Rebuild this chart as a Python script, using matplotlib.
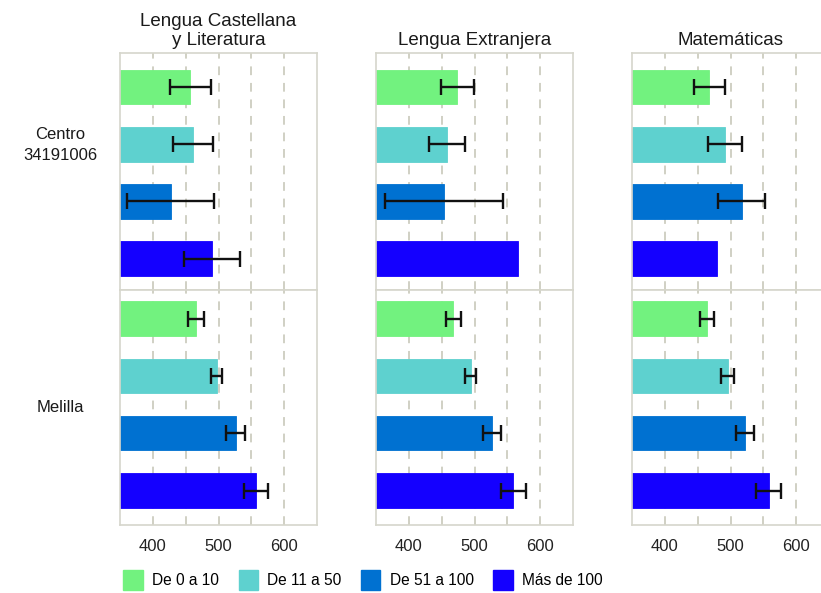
import matplotlib
matplotlib.use("Agg")
import matplotlib.pyplot as plt
import matplotlib.patches as mpatches
import numpy as np

plt.rcParams['font.family'] = ['Liberation Sans', 'DejaVu Sans']

# datos
materias = ["Lengua Castellana\ny Literatura", "Lengua Extranjera", "Matemáticas"]
grupos = ["De 0 a 10", "De 11 a 50", "De 51 a 100", "Más de 100"]
colores = ["#72F27F", "#5ED1CF", "#0071D1", "#1400FF"]
filas = ["Centro\n34191006", "Melilla"]

# Centro 34191006 (media, error)
centro_media = [[457, 461, 427, 490],
                [474, 458, 453, 567],
                [468, 492, 517, 480]]
centro_error = [[31, 30, 66, 42],
                [25, 27, 90, np.nan],
                [23, 26, 36, np.nan]]

# Melilla (media, error)
melilla_media = [[466, 497, 526, 557],
                 [468, 494, 527, 559],
                 [464, 496, 522, 558]]
melilla_error = [[12, 9, 14, 18],
                 [11, 9, 14, 19],
                 [11, 10, 14, 19]]

ticks = [400, 500, 600]

#==========
# figura
#==========
W, H = 821, 593
fig = plt.figure(figsize=(W / 100, H / 100), dpi=100)

borde = "#D6D6CC"
izq = [120, 376, 632]
ancho = 197
filas_px = [(53, 290), (290, 525)]
ylims = [(3.55, -0.6), (3.6, -0.5)]

def caja(x0, y0, y1):
    return [x0 / W, 1 - y1 / H, ancho / W, (y1 - y0) / H]

for j, materia in enumerate(materias):
    for i in range(2):
        y0, y1 = filas_px[i]
        ax = fig.add_axes(caja(izq[j], y0, y1))
        if i == 0:
            medias, errores = centro_media[j], centro_error[j]
        else:
            medias, errores = melilla_media[j], melilla_error[j]
        pos = np.arange(len(grupos))
        for x in [400, 450, 500, 550, 600]:
            ax.axvline(x, color="#D0D0C4", lw=1.4, ls=(0, (4.5, 4)), zorder=0)
        ax.barh(pos, np.array(medias) - 350, left=350, height=0.6,
                color=colores, edgecolor=colores, lw=0.6, zorder=2)
        ax.errorbar(medias, pos, xerr=errores, fmt='none', ecolor='#111111',
                    elinewidth=1.7, capsize=6, capthick=1.7, zorder=3)
        ax.set_xlim(350, 650)
        ax.set_ylim(*ylims[i])
        ax.set_yticks([])
        for s in ax.spines.values():
            s.set_color(borde)
            s.set_linewidth(1.2)
        ax.tick_params(axis='x', length=0, pad=10, labelsize=12, labelcolor='#222222')
        ax.set_xticks(ticks)
        if i == 0:
            ax.set_xticklabels([])
            ax.set_title(materia, fontsize=13.5, color='#1a1a1a', pad=6,
                         linespacing=1.15)

# etiquetas de filas
fig.text(60 / W, 1 - 145 / H, filas[0], ha='center', va='center',
         fontsize=12, color='#1a1a1a', linespacing=1.55)
fig.text(60 / W, 1 - 407 / H, filas[1], ha='center', va='center',
         fontsize=12, color='#1a1a1a')

# leyenda
handles = [mpatches.Patch(color=c, label=g) for c, g in zip(colores, grupos)]
fig.legend(handles=handles, loc='center', bbox_to_anchor=(363 / W, 1 - 580 / H),
           ncol=4, frameon=False, fontsize=11.2, handlelength=1.25, handleheight=1.6,
           handletextpad=0.6, columnspacing=1.25)

plt.savefig("out.png", dpi=100)
